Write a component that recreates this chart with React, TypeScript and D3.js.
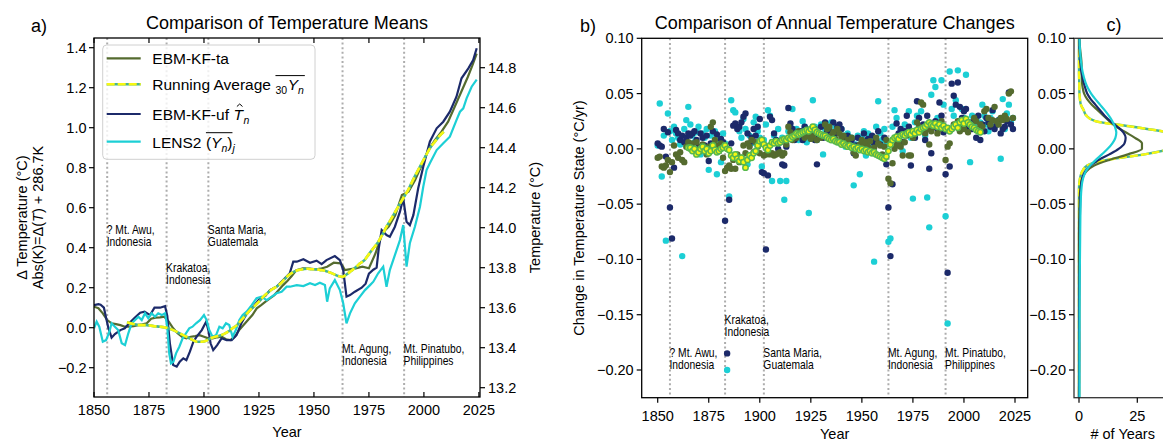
import React, { useEffect, useRef } from "react";
import * as d3 from "d3";

// ---------------- Panel a: temperature means (°C anomaly) ----------------
const taYears = [1850,1852,1854,1856,1858,1860,1862,1864,1866,1868,1870,1872,1874,1876,1878,1880,1882,1884,1886,1888,1890,1892,1894,1896,1898,1900,1902,1904,1906,1908,1910,1912,1914,1916,1918,1920,1922,1924,1926,1928,1930,1932,1934,1936,1938,1940,1942,1945,1948,1951,1953,1956,1959,1962,1963,1964,1966,1969,1972,1975,1978,1981,1984,1987,1990,1993,1996,1999,2002,2005,2008,2011,2014,2017,2020,2022,2024];
const taValues = [0.105,0.097,0.072,0.038,0.022,0.018,0.013,0.005,0.005,0.008,0.013,0.017,0.022,0.045,0.05,0.052,0.055,0.03,-0.003,-0.028,-0.045,-0.053,-0.045,-0.042,-0.037,-0.045,-0.053,-0.053,-0.048,-0.045,-0.058,-0.062,-0.045,-0.012,0.013,0.038,0.063,0.097,0.113,0.13,0.147,0.163,0.188,0.213,0.235,0.26,0.288,0.297,0.295,0.292,0.295,0.305,0.325,0.322,0.31,0.288,0.292,0.297,0.305,0.297,0.372,0.472,0.505,0.563,0.663,0.68,0.738,0.813,0.888,0.938,0.98,1.03,1.105,1.18,1.255,1.31,1.37];

const avgYears = [1865,1868,1871,1874,1877,1880,1883,1886,1889,1892,1895,1897,1899,1901,1903,1905,1907,1909,1911,1913,1915,1917,1919,1921,1923,1925,1927,1929,1931,1933,1935,1937,1939,1941,1943,1945,1947,1949,1951,1953,1955,1957,1959,1961,1963,1965,1967,1969,1971,1973,1975,1977,1979,1981,1983,1985,1987,1989,1991,1993,1995,1997,1999,2001,2003,2005,2007,2009];
const avgValues = [0.027,0.018,0.013,0.013,0.008,0.005,0.0,-0.012,-0.028,-0.045,-0.062,-0.07,-0.07,-0.065,-0.053,-0.045,-0.04,-0.032,-0.02,-0.003,0.013,0.038,0.063,0.088,0.108,0.13,0.155,0.175,0.192,0.205,0.222,0.247,0.267,0.28,0.288,0.292,0.295,0.292,0.292,0.288,0.285,0.277,0.268,0.258,0.255,0.268,0.285,0.302,0.322,0.338,0.368,0.397,0.425,0.463,0.505,0.542,0.58,0.618,0.655,0.692,0.738,0.78,0.822,0.863,0.902,0.93,0.958,0.98];

const ufYears = [1850,1852,1853,1854.5,1855.5,1856.5,1858,1859.5,1862,1864,1866,1868.5,1871,1873,1875.5,1877.5,1880,1882.3,1883.3,1884.5,1886,1887.6,1889,1890.6,1892,1893.6,1895.2,1896.7,1899,1901,1902,1903,1904.2,1906,1908,1910.3,1912.6,1914.8,1917,1919.4,1922,1925,1928,1930,1933,1936,1939,1940.6,1942.2,1945.2,1948.2,1951.2,1953.5,1955.7,1959.5,1961.8,1963.3,1964.8,1966.4,1968.6,1971.7,1973.5,1975,1977,1978.5,1979.5,1980.8,1983,1984.5,1986.8,1989.1,1990.6,1992.1,1993.6,1995.2,1997.4,1999.7,2002.7,2005.8,2008.8,2011.8,2014.8,2017.1,2020.2,2022.4,2024];
const ufValues = [0.113,0.118,0.115,0.1,0.05,0.0,-0.05,-0.032,-0.012,-0.003,0.022,0.05,0.075,0.08,0.063,0.1,0.1,0.108,0.06,-0.078,-0.187,-0.195,-0.17,-0.153,-0.162,-0.12,-0.07,-0.045,-0.012,0.03,-0.012,-0.078,-0.112,-0.087,-0.053,-0.062,-0.062,-0.037,0.022,0.07,0.1,0.14,0.16,0.188,0.205,0.238,0.272,0.33,0.33,0.342,0.325,0.335,0.318,0.338,0.358,0.338,0.288,0.155,0.163,0.18,0.2,0.22,0.27,0.29,0.3,0.4,0.488,0.463,0.455,0.505,0.58,0.647,0.53,0.513,0.563,0.697,0.805,0.93,0.997,1.03,1.08,1.155,1.247,1.297,1.338,1.397];

const lensYears = [1850,1851.2,1852.4,1854,1855.5,1857,1858,1859.5,1861,1862.6,1864.1,1865.6,1867.1,1868.6,1870.2,1871.7,1873.2,1874.7,1876.2,1877.7,1879.2,1880.8,1882.3,1883.3,1884.2,1885,1886.1,1887.3,1888.8,1890.3,1891.8,1893.3,1894.8,1896.4,1898.2,1900,1901.2,1902.4,1903.9,1905.5,1907,1908.5,1910,1911.5,1913,1914.5,1916.1,1917.6,1919.4,1921.7,1923.9,1926.2,1928.5,1930.8,1933,1935.3,1937.6,
  1939.1,1942.2,1945.2,1948.2,1950.5,1952.7,1955,1956,1957.2,1959.5,1961.8,1963.3,1964.8,1966.4,1968.6,1970.9,1973.2,1975.5,1977,1979.2,1981.5,1983,1984.5,1986.8,1989.1,1990.6,1992.1,1993.6,1995.9,1998.2,1999.7,2001.2,2002.7,2005.8,2008.8,2011.8,2014.8,2016.4,2017.9,2019.4,2021.7,2024];
const lensValues = [-0.003,0.03,0.005,-0.07,-0.062,-0.02,0.022,0.005,-0.012,-0.078,-0.087,-0.028,0.022,0.038,0.055,0.038,0.072,0.047,0.072,0.055,0.072,0.063,0.072,0.005,-0.128,-0.178,-0.17,-0.128,-0.095,-0.053,-0.028,-0.003,0.005,0.022,0.038,0.063,0.038,-0.012,-0.045,-0.037,0.005,-0.003,0.022,0.013,-0.045,-0.012,0.038,0.063,0.08,0.113,0.147,0.155,0.138,0.155,0.172,0.18,0.205,
  0.205,0.213,0.208,0.222,0.213,0.225,0.213,0.13,0.197,0.238,0.188,0.122,0.022,0.072,0.122,0.155,0.188,0.213,0.23,0.272,0.305,0.205,0.288,0.363,0.438,0.513,0.305,0.422,0.505,0.605,0.705,0.788,0.822,0.888,0.922,0.955,1.038,1.08,1.097,1.147,1.205,1.24];

// ---------------- Panel b: annual changes (units of 0.001 °C/yr), one per year from 1850 ----------------
const changeStartYear = 1850;
const changeTa = [
  -8,-7,-16,-17,-15,-10,-21,-12,3,-5,
  -8,-3,-10,-12,2,6,0,5,-2,6,
  -3,1,4,0,-5,2,20,24,8,3,
  -2,5,-8,-20,-17,-15,-18,-10,-18,-5,
  -12,-8,3,-4,5,2,8,-3,6,2,
  -4,8,-6,-5,-3,-5,-4,-6,-5,-4,
  -3,-6,-4,4,20,15,8,12,10,16,
  14,13,10,12,16,9,12,18,8,14,
  10,12,22,18,20,12,15,9,18,14,
  10,12,5,8,3,10,-3,-6,0,4,
  8,3,6,2,7,-2,1,10,5,3,
  -5,2,8,-27,-31,-13,0,3,6,2,
  -6,6,12,-6,-6,10,14,24,20,42,
  40,14,18,4,16,20,22,14,18,25,
  20,-10,2,5,18,22,20,25,16,20,
  18,24,15,22,20,28,25,18,22,20,
  34,36,28,22,26,38,25,22,28,26,
  30,27,50,52,28];
const changeUf = [
  5,3,2,18,-7,15,-53,-81,-17,17,
  14,8,12,6,10,14,12,14,16,8,
  2,14,10,3,12,-11,5,16,0,13,
  -2,9,6,-65,-185,-46,5,21,23,18,
  20,24,29,32,14,5,10,18,12,20,
  27,-21,-22,-91,-24,29,26,14,8,0,
  6,-14,-15,2,37,23,18,8,12,15,
  16,8,20,12,15,10,18,8,-14,12,
  20,10,24,16,18,12,24,14,20,22,
  18,10,6,12,2,8,-4,3,10,0,
  6,14,4,9,-2,12,5,8,16,4,
  -6,10,-14,-53,-97,-32,8,23,14,18,
  6,16,30,20,-15,12,10,43,28,18,
  22,8,30,-18,-4,20,25,18,42,30,
  15,-23,-112,-16,59,48,40,60,38,28,
  34,36,20,24,18,26,10,30,8,22,
  16,28,24,20,35,18,22,26,14,18,
  20,25,51,22,18];
const changeLens = [
  3,41,-25,12,-83,32,16,8,20,14,
  10,4,-97,18,26,38,22,12,6,15,
  20,-5,14,10,18,-19,12,4,16,-23,
  8,-12,14,5,-200,-43,44,35,33,20,
  16,10,27,18,-14,12,5,24,29,16,
  10,-16,8,22,35,30,-29,12,6,18,
  -29,10,-46,-29,16,20,36,10,18,8,
  14,25,20,6,-58,16,44,20,8,14,
  22,-5,18,12,16,24,10,20,14,6,
  18,12,2,14,8,10,-33,4,12,-23,
  10,16,-6,14,8,2,-102,20,43,14,
  8,18,4,-84,-81,20,35,28,12,16,
  -2,22,14,34,10,-45,24,30,18,34,
  20,12,-44,-71,49,62,56,28,22,62,
  40,-61,-158,70,36,30,44,71,24,36,
  28,67,20,-12,30,22,26,18,24,40,
  30,22,16,28,34,20,22,26,-9,45,
  18,32,40,24,28];
const changeAvgStartYear = 1865;
const changeAvg = [
  1,1,-2,0,-5,-3,0,2,-2,0,
  -4,-2,3,-1,-3,-2,0,1,3,0,
  -1,-6,-8,-5,-9,-11,-8,-12,-17,-10,
  -6,-8,-4,-2,3,7,8,4,1,-1,
  3,6,5,7,5,6,8,9,8,10,
  9,11,12,14,13,14,15,16,17,16,
  18,20,17,15,14,13,12,12,10,9,
  8,9,7,6,6,4,5,3,2,3,
  1,2,0,1,-1,0,-2,-1,-3,-2,
  -4,-3,-5,-6,-7,-8,-9,-7,-2,4,
  8,10,11,9,12,13,12,14,15,13,
  16,14,17,15,18,19,20,22,24,22,
  21,23,20,22,19,21,18,19,16,18,
  20,22,19,24,26,23,27,24,22,20,
  19,17,16,15];

// ---------------- Panel c: distribution of annual changes (# of years) ----------------
const kdeLevels = [0.10,0.09,0.08,0.07,0.06,0.055,0.05,0.045,0.04,0.035,0.03,0.025,0.02,0.015,0.01,0.005,0,-0.005,-0.01,-0.015,-0.02,-0.025,-0.03,-0.035,-0.04,-0.05,-0.06,-0.08,-0.10,-0.12,-0.15,-0.18,-0.225];
const kdeLens = [0.2,0.4,0.8,1.5,2.8,3.8,5.2,7,9,11,12.8,14.3,15.4,16,15.6,14.3,12.3,9.8,7.2,4.8,3,2,1.4,1.1,0.9,0.7,0.6,0.5,0.4,0.3,0.25,0.2,0.2];
const kdeUf = [0.1,0.2,0.5,1,2,2.7,3.5,5,7,9,11,13.5,16.5,19,20,19.5,17,13,8.5,5,2.8,1.6,1,0.8,0.6,0.5,0.4,0.3,0.3,0.15,0.05,0.1,0];
const kdeTa = [0.1,0.5,1,1.2,1.3,1.6,2.2,3.5,5.5,8,10.5,13,16,20,24,27,27,21,13,6.5,3.3,1.8,1.1,0.7,0.4,0.2,0.1,0,0,0,0,0,0];
const kdeAvg = [0,0,0,0,0.1,0.15,0.2,0.4,0.8,2,3.2,7,23,38,47,50,40,28,12,3.5,1.5,0.6,0.2,0,0,0,0,0,0,0,0,0,0];

// ---------------- Volcanoes ----------------
const volcanoYears = [1856, 1883, 1902, 1963, 1991];
const volcanoName = ["? Mt. Awu,", "Krakatoa,", "Santa Maria,", "Mt. Agung,", "Mt. Pinatubo,"];
const volcanoCountry = ["Indonesia", "Indonesia", "Guatemala", "Indonesia", "Philippines"];

// ticks
const yearTicks = [1850, 1875, 1900, 1925, 1950, 1975, 2000, 2025];
const aLeftTicks = [-0.2, 0, 0.2, 0.4, 0.6, 0.8, 1.0, 1.2, 1.4];
const aRightTicks = [13.2, 13.4, 13.6, 13.8, 14.0, 14.2, 14.4, 14.6, 14.8];
const bTicks = [0.10, 0.05, 0, -0.05, -0.10, -0.15, -0.20];
const cTicks = [0, 25];

const W = 1163, H = 441;
const FONT = "'Liberation Sans', Arial, Helvetica, sans-serif";
const C_TA = "#556b2f";
const C_UF = "#1c2a6a";
const C_LENS = "#1ccfd5";
const C_YEL = "#f7f712";
const C_AVGBASE = "#45b592";
const C_DOT_RING = "#58b84c";

function fmtMinus(s: string) { return s.replace("-", "\u2212"); }

function draw(node: SVGSVGElement) {
  const svg = d3.select(node);
  svg.selectAll("*").remove();
  svg.append("rect").attr("width", W).attr("height", H).attr("fill", "#fff");
  const defs = svg.append("defs");

  const txt = (g: any, x: number, y: number, s: string, o: any = {}) => {
    const t = g.append("text").text(s)
      .attr("font-family", o.family ?? FONT).attr("font-size", o.size ?? 14.5)
      .attr("text-anchor", o.anchor ?? "start").attr("fill", o.fill ?? "#000");
    if (o.scaleX) {
      t.attr("x", 0).attr("y", 0).attr("transform", `translate(${x},${y}) scale(${o.scaleX},1)`);
    } else {
      t.attr("x", x).attr("y", y);
      if (o.rotate) t.attr("transform", `rotate(${o.rotate},${x},${y})`);
    }
    if (o.italic) t.attr("font-style", "italic");
    return t;
  };
  const runs = (g: any, x: number, y: number, parts: any[]) => {
    let cx = x; const boxes: any[] = [];
    for (const p of parts) {
      cx += p.gap ?? 0;
      const t = txt(g, cx, y + (p.dy ?? 0), p.s, { size: p.size ?? 15.5, italic: p.italic });
      const w = (t.node() as SVGTextElement).getComputedTextLength();
      boxes.push({ x0: cx, x1: cx + w });
      cx += w;
    }
    return boxes;
  };
  const ann = { size: 12.3, scaleX: 0.84 };

  // ================= Panel a =================
  const A = { l: 94, r: 480, t: 38, b: 397 };
  const xA = d3.scaleLinear().domain([1850, 2025.5]).range([A.l, A.r]);
  const yA = d3.scaleLinear().domain([-0.3465, 1.4485]).range([A.b, A.t]);
  const offsetC = 13.5;
  defs.append("clipPath").attr("id", "clipA").append("rect")
    .attr("x", A.l).attr("y", A.t).attr("width", A.r - A.l).attr("height", A.b - A.t);
  const ga = svg.append("g");
  const gaPlot = ga.append("g").attr("clip-path", "url(#clipA)");

  volcanoYears.forEach((v) => {
    gaPlot.append("line").attr("x1", xA(v)).attr("x2", xA(v)).attr("y1", A.t).attr("y2", A.b)
      .attr("stroke", "#adadad").attr("stroke-width", 2).attr("stroke-dasharray", "2,2.6");
  });

  const lineA = (ys: number[], vs: number[], curve: any = d3.curveLinear) =>
    d3.line<number>().x((_, i) => xA(ys[i])).y((d) => yA(d)).curve(curve)(vs);

  gaPlot.append("path").attr("d", lineA(taYears, taValues)).attr("fill", "none").attr("stroke", C_TA).attr("stroke-width", 2.2);
  gaPlot.append("path").attr("d", lineA(ufYears, ufValues)).attr("fill", "none").attr("stroke", C_UF).attr("stroke-width", 2.2);
  gaPlot.append("path").attr("d", lineA(lensYears, lensValues)).attr("fill", "none").attr("stroke", C_LENS).attr("stroke-width", 2.2);
  gaPlot.append("path").attr("d", lineA(avgYears, avgValues, d3.curveMonotoneX)).attr("fill", "none").attr("stroke", C_AVGBASE).attr("stroke-width", 2.6);
  gaPlot.append("path").attr("d", lineA(avgYears, avgValues, d3.curveMonotoneX)).attr("fill", "none").attr("stroke", C_YEL).attr("stroke-width", 2.6).attr("stroke-dasharray", "8,3");

  // volcano annotations panel a
  const annA = [234, 272, 234, 353, 353];
  volcanoYears.forEach((v, i) => {
    const x = xA(v) - 0.5;
    txt(ga, x, annA[i], volcanoName[i], ann);
    txt(ga, x, annA[i] + 12.3, volcanoCountry[i], ann);
  });

  // legend
  const lg = ga.append("g");
  lg.append("rect").attr("x", 102.7).attr("y", 45).attr("width", 212.3).attr("height", 114.3).attr("rx", 4)
    .attr("fill", "#fff").attr("fill-opacity", 0.8).attr("stroke", "#d0d0d0").attr("stroke-width", 1);
  const legY = [58.3, 84.3, 114, 141.7];
  const sx0 = 106.7, sx1 = 140.7, tx = 152.3;
  lg.append("line").attr("x1", sx0).attr("x2", sx1).attr("y1", legY[0]).attr("y2", legY[0]).attr("stroke", C_TA).attr("stroke-width", 2.2);
  lg.append("line").attr("x1", sx0).attr("x2", sx1).attr("y1", legY[1]).attr("y2", legY[1]).attr("stroke", C_AVGBASE).attr("stroke-width", 2.6);
  lg.append("line").attr("x1", sx0).attr("x2", sx1).attr("y1", legY[1]).attr("y2", legY[1]).attr("stroke", C_YEL).attr("stroke-width", 2.6).attr("stroke-dasharray", "8,3");
  lg.append("line").attr("x1", sx0).attr("x2", sx1).attr("y1", legY[2]).attr("y2", legY[2]).attr("stroke", C_UF).attr("stroke-width", 2.2);
  lg.append("line").attr("x1", sx0).attr("x2", sx1).attr("y1", legY[3]).attr("y2", legY[3]).attr("stroke", C_LENS).attr("stroke-width", 2.2);

  txt(lg, tx, legY[0] + 6, "EBM-KF-ta", { size: 15.5 });
  const b2 = runs(lg, tx, legY[1] + 6, [
    { s: "Running Average" }, { s: "30", size: 10.5, dy: 4, gap: 4.5 }, { s: "Y", italic: true, gap: 0.5 }, { s: "n", italic: true, size: 10.5, dy: 4 },
  ]);
  lg.append("line").attr("x1", b2[1].x0).attr("x2", b2[3].x1 + 1).attr("y1", legY[1] - 8.7).attr("y2", legY[1] - 8.7).attr("stroke", "#000").attr("stroke-width", 1);
  const b3 = runs(lg, tx, legY[2] + 6, [
    { s: "EBM-KF-uf" }, { s: "T", italic: true, gap: 4.5 }, { s: "n", italic: true, size: 10.5, dy: 4, gap: 0.5 },
  ]);
  const tc = (b3[1].x0 + b3[1].x1) / 2 + 1.5;
  lg.append("path").attr("d", `M${tc - 2.8},${legY[2] - 7.5} L${tc},${legY[2] - 10} L${tc + 2.8},${legY[2] - 7.5}`).attr("fill", "none").attr("stroke", "#000").attr("stroke-width", 1);
  const b4 = runs(lg, tx, legY[3] + 6, [
    { s: "LENS2" }, { s: "(", gap: 4.5 }, { s: "Y", italic: true }, { s: "n", italic: true, size: 10.5, dy: 4 }, { s: ")" }, { s: "j", italic: true, size: 10.5, dy: 4 },
  ]);
  lg.append("line").attr("x1", b4[1].x0).attr("x2", b4[4].x1).attr("y1", legY[3] - 9).attr("y2", legY[3] - 9).attr("stroke", "#000").attr("stroke-width", 1);

  // frame & ticks panel a
  ga.append("rect").attr("x", A.l).attr("y", A.t).attr("width", A.r - A.l).attr("height", A.b - A.t)
    .attr("fill", "none").attr("stroke", "#000").attr("stroke-width", 1.3);
  aLeftTicks.forEach((v) => {
    const y = yA(v);
    ga.append("line").attr("x1", A.l - 5).attr("x2", A.l).attr("y1", y).attr("y2", y).attr("stroke", "#000").attr("stroke-width", 1.2);
    txt(ga, A.l - 7.5, y + 5, fmtMinus(v.toFixed(1)), { anchor: "end" });
  });
  aRightTicks.forEach((v) => {
    const y = yA(v - offsetC);
    ga.append("line").attr("x1", A.r).attr("x2", A.r + 5).attr("y1", y).attr("y2", y).attr("stroke", "#000").attr("stroke-width", 1.2);
    txt(ga, A.r + 8, y + 5, v.toFixed(1));
  });
  yearTicks.forEach((v) => {
    const x = xA(v);
    ga.append("line").attr("x1", x).attr("x2", x).attr("y1", A.b - 5).attr("y2", A.b).attr("stroke", "#000").attr("stroke-width", 1.2);
    ga.append("line").attr("x1", x).attr("x2", x).attr("y1", A.t).attr("y2", A.t + 5).attr("stroke", "#000").attr("stroke-width", 1.2);
    txt(ga, x, 414.5, String(v), { anchor: "middle" });
  });
  txt(ga, (A.l + A.r) / 2, 437, "Year", { anchor: "middle" });
  txt(ga, (A.l + A.r) / 2, 28.5, "Comparison of Temperature Means", { anchor: "middle", size: 18 });
  txt(ga, 31, 32, "a)", { size: 18 });
  txt(ga, 540, 217.5, "Temperature (°C)", { anchor: "middle", rotate: -90 });
  const cyA = 217.5;
  txt(ga, 27, cyA, "Δ Temperature (°C)", { anchor: "middle", rotate: -90 });
  {
    const t = ga.append("text").attr("transform", `rotate(-90,43,${cyA})`).attr("x", 43).attr("y", cyA)
      .attr("font-family", FONT).attr("font-size", 14.5).attr("text-anchor", "middle");
    t.append("tspan").text("Abs(K)=Δ(");
    t.append("tspan").attr("font-style", "italic").text("T");
    t.append("tspan").text(") + 286.7K");
  }

  // ================= Panel b =================
  const B = { l: 641.7, r: 1027.7, t: 38.3, b: 397.7 };
  const xB = d3.scaleLinear().domain([1850, 2025]).range([657.7, 1015]);
  const yB = d3.scaleLinear().domain([0.10, -0.20]).range([38.3, 370]);
  defs.append("clipPath").attr("id", "clipB").append("rect")
    .attr("x", B.l).attr("y", B.t).attr("width", B.r - B.l).attr("height", B.b - B.t);
  const gb = svg.append("g");
  const gbPlot = gb.append("g").attr("clip-path", "url(#clipB)");
  volcanoYears.forEach((v) => {
    gbPlot.append("line").attr("x1", xB(v)).attr("x2", xB(v)).attr("y1", B.t).attr("y2", B.b)
      .attr("stroke", "#adadad").attr("stroke-width", 2).attr("stroke-dasharray", "2,2.6");
  });
  const dots = (arr: number[], start: number, fill: string, stroke?: string) => {
    gbPlot.append("g").selectAll("circle").data(arr).join("circle")
      .attr("cx", (_: number, i: number) => xB(start + i)).attr("cy", (d: number) => yB(d / 1000))
      .attr("r", stroke ? 2.7 : 3.2).attr("fill", fill)
      .attr("stroke", stroke ?? "none").attr("stroke-width", stroke ? 1.5 : 0);
  };
  dots(changeLens, changeStartYear, C_LENS);
  dots(changeUf, changeStartYear, C_UF);
  dots(changeTa, changeStartYear, C_TA);
  dots(changeAvg, changeAvgStartYear, C_YEL, C_DOT_RING);

  const annB = [356.5, 324, 356.5, 356.5, 356.5];
  volcanoYears.forEach((v, i) => {
    const x = xB(v) - 0.5;
    txt(gb, x, annB[i], volcanoName[i], ann);
    txt(gb, x, annB[i] + 12.3, volcanoCountry[i], ann);
  });

  gb.append("rect").attr("x", B.l).attr("y", B.t).attr("width", B.r - B.l).attr("height", B.b - B.t)
    .attr("fill", "none").attr("stroke", "#000").attr("stroke-width", 1.3);
  bTicks.forEach((v) => {
    const y = yB(v);
    gb.append("line").attr("x1", B.l - 5).attr("x2", B.l).attr("y1", y).attr("y2", y).attr("stroke", "#000").attr("stroke-width", 1.2);
    txt(gb, B.l - 8, y + 5, fmtMinus(v.toFixed(2)), { anchor: "end" });
  });
  yearTicks.forEach((v) => {
    const x = xB(v);
    gb.append("line").attr("x1", x).attr("x2", x).attr("y1", B.b).attr("y2", B.b + 5).attr("stroke", "#000").attr("stroke-width", 1.2);
    txt(gb, x, 420.5, String(v), { anchor: "middle" });
  });
  txt(gb, (B.l + B.r) / 2, 439, "Year", { anchor: "middle" });
  txt(gb, (B.l + B.r) / 2, 28.5, "Comparison of Annual Temperature Changes", { anchor: "middle", size: 18 });
  txt(gb, 580, 32, "b)", { size: 18 });
  txt(gb, 584, 218, "Change in Temperature State (°C/yr)", { anchor: "middle", rotate: -90 });

  // ================= Panel c =================
  const Cc = { l: 1074, r: 1171, t: 38.3, b: 397.7 };
  const xC = d3.scaleLinear().domain([0, 25]).range([1079, 1137.3]);
  defs.append("clipPath").attr("id", "clipC").append("rect")
    .attr("x", Cc.l).attr("y", Cc.t).attr("width", Cc.r - Cc.l).attr("height", Cc.b - Cc.t);
  const gc = svg.append("g");
  const gcPlot = gc.append("g").attr("clip-path", "url(#clipC)");
  const lineC = (counts: number[]) =>
    d3.line<number>().x((d) => xC(d)).y((_, i) => yB(kdeLevels[i])).curve(d3.curveMonotoneY)(counts);
  gcPlot.append("path").attr("d", lineC(kdeAvg)).attr("fill", "none").attr("stroke", C_AVGBASE).attr("stroke-width", 2.4);
  gcPlot.append("path").attr("d", lineC(kdeAvg)).attr("fill", "none").attr("stroke", C_YEL).attr("stroke-width", 2.4).attr("stroke-dasharray", "8,3");
  gcPlot.append("path").attr("d", lineC(kdeTa)).attr("fill", "none").attr("stroke", C_TA).attr("stroke-width", 2.2);
  gcPlot.append("path").attr("d", lineC(kdeUf)).attr("fill", "none").attr("stroke", C_UF).attr("stroke-width", 2.2);
  gcPlot.append("path").attr("d", lineC(kdeLens)).attr("fill", "none").attr("stroke", C_LENS).attr("stroke-width", 2.2);

  gc.append("rect").attr("x", Cc.l).attr("y", Cc.t).attr("width", Cc.r - Cc.l).attr("height", Cc.b - Cc.t)
    .attr("fill", "none").attr("stroke", "#333").attr("stroke-width", 1.3);
  bTicks.forEach((v) => {
    const y = yB(v);
    gc.append("line").attr("x1", Cc.l - 5).attr("x2", Cc.l).attr("y1", y).attr("y2", y).attr("stroke", "#000").attr("stroke-width", 1.2);
    txt(gc, Cc.l - 8, y + 5, fmtMinus(v.toFixed(2)), { anchor: "end" });
  });
  cTicks.forEach((v) => {
    const x = xC(v);
    gc.append("line").attr("x1", x).attr("x2", x).attr("y1", Cc.b).attr("y2", Cc.b + 5).attr("stroke", "#000").attr("stroke-width", 1.2);
    txt(gc, x, 420.5, String(v), { anchor: "middle" });
  });
  txt(gc, 1122.7, 439, "# of Years", { anchor: "middle" });
  txt(gc, 1114, 31, "c)", { anchor: "middle", size: 18 });
}

export default function App() {
  const ref = useRef<SVGSVGElement>(null);
  useEffect(() => {
    if (ref.current) draw(ref.current);
  }, []);
  return (
    <svg ref={ref} width={W} height={H}
      style={{ position: "absolute", left: 0, top: 0, display: "block", background: "#fff" }} />
  );
}
